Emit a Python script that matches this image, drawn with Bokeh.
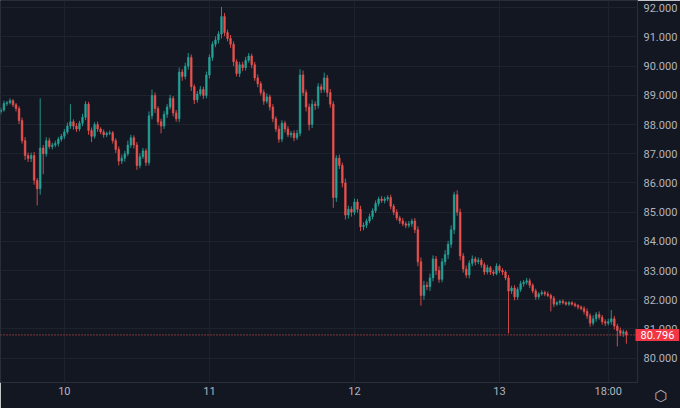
import re
from bokeh.plotting import figure
from bokeh.models import FixedTicker, Span, Label, ColumnDataSource
from bokeh.embed import file_html
from bokeh.resources import INLINE

# ---- data (30-minute candles, hours counted from day 9 00:00) ----
start_hour = 13.5
step_hours = 0.5
first_open = 88.45
closes = [
    88.50, 88.72, 88.75, 88.82, 88.68, 88.55, 88.14, 87.45, 86.94, 86.84,
    86.94, 86.09, 85.80, 87.20, 87.00, 87.45, 87.25, 87.30, 87.35, 87.50,
    87.60, 87.75, 87.95, 88.10, 87.95, 87.85, 88.05, 88.25, 88.70, 87.80,
    87.60, 88.00, 87.85, 87.75, 87.65, 87.70, 87.72, 87.45, 87.15, 86.75,
    86.85, 87.00, 87.30, 87.55, 87.30, 86.60, 86.90, 87.10, 86.70, 88.30,
    89.00, 88.55, 88.10, 87.95, 88.35, 88.60, 88.90, 88.40, 88.20, 89.80,
    89.65, 90.00, 90.30, 89.30, 88.85, 89.05, 89.20, 89.00, 89.70, 90.30,
    90.75, 90.90, 91.10, 91.70, 91.15, 90.95, 90.75, 90.15, 89.75, 90.05,
    89.95, 90.20, 90.35, 90.05, 89.60, 89.40, 89.10, 88.80, 88.95, 88.60,
    88.20, 87.85, 87.50, 88.05, 87.85, 87.65, 87.70, 87.55, 87.70, 89.70,
    89.10, 88.60, 88.00, 88.70, 88.65, 89.30, 89.20, 89.60, 89.10, 88.70,
    85.50, 86.85, 86.60, 86.00, 84.90, 85.10, 85.00, 85.35, 85.10, 84.50,
    84.55, 84.70, 84.85, 85.05, 85.30, 85.45, 85.40, 85.45, 85.50, 85.20,
    85.00, 84.80, 84.70, 84.60, 84.55, 84.60, 84.70, 84.40, 83.30, 82.15,
    82.50, 82.45, 82.75, 83.40, 83.00, 82.70, 83.30, 83.55, 83.90, 84.40,
    85.60, 85.00, 83.50, 83.05, 82.85, 83.25, 83.40, 83.30, 83.35, 83.20,
    82.95, 83.10, 82.95, 82.90, 83.15, 83.00, 82.95, 82.75, 82.30, 82.40,
    82.10, 82.35, 82.55, 82.60, 82.65, 82.50, 82.30, 82.10, 82.20, 82.25,
    82.20, 82.15, 82.05, 81.85, 81.90, 81.95, 81.90, 81.85, 81.90, 81.85,
    81.80, 81.75, 81.70, 81.60, 81.45, 81.20, 81.35, 81.50, 81.40, 81.25,
    81.20, 81.25, 81.35, 81.10, 80.95, 80.85, 80.90, 80.796,
]
# upper / lower wick lengths beyond the body, in cents
wick_up = [
    8, 10, 6, 8, 5, 6, 8, 10, 12, 10,
    10, 12, 8, 170, 10, 12, 10, 8, 10, 8,
    8, 10, 12, 60, 8, 10, 8, 12, 10, 8,
    10, 8, 10, 6, 8, 6, 8, 6, 8, 10,
    12, 10, 15, 10, 8, 10, 12, 10, 8, 15,
    20, 10, 8, 10, 12, 10, 12, 8, 10, 15,
    10, 12, 15, 10, 8, 10, 12, 10, 12, 10,
    10, 12, 10, 33, 12, 10, 12, 10, 8, 10,
    10, 12, 10, 8, 10, 12, 8, 10, 12, 8,
    10, 8, 12, 10, 8, 10, 8, 10, 12, 20,
    15, 10, 12, 15, 10, 12, 10, 18, 10, 12,
    10, 10, 12, 10, 15, 12, 10, 12, 10, 12,
    10, 8, 10, 8, 10, 8, 10, 8, 8, 10,
    8, 10, 8, 10, 8, 10, 8, 10, 12, 15,
    15, 12, 15, 12, 10, 15, 12, 15, 12, 15,
    10, 15, 12, 10, 12, 10, 12, 8, 10, 8,
    8, 10, 6, 8, 10, 6, 8, 6, 10, 8,
    10, 8, 10, 8, 10, 8, 6, 8, 6, 8,
    6, 8, 6, 8, 6, 5, 6, 5, 6, 5,
    6, 5, 6, 8, 10, 8, 12, 8, 10, 8,
    8, 10, 30, 10, 8, 10, 8, 6,
]
wick_dn = [
    10, 6, 8, 6, 8, 10, 12, 10, 15, 12,
    12, 15, 57, 20, 70, 10, 8, 10, 8, 10,
    8, 10, 8, 10, 12, 10, 8, 10, 10, 15,
    20, 8, 10, 8, 10, 8, 6, 10, 12, 15,
    10, 12, 8, 10, 12, 15, 10, 8, 12, 10,
    12, 15, 12, 25, 10, 12, 8, 12, 10, 12,
    15, 10, 12, 15, 15, 10, 8, 12, 10, 12,
    12, 10, 12, 15, 12, 10, 12, 15, 10, 12,
    12, 10, 8, 12, 10, 12, 10, 12, 8, 12,
    12, 10, 12, 10, 12, 8, 10, 12, 8, 10,
    12, 15, 20, 12, 15, 10, 12, 10, 15, 12,
    35, 15, 12, 15, 15, 12, 15, 10, 12, 15,
    12, 10, 8, 10, 8, 10, 8, 10, 8, 10,
    10, 8, 10, 8, 10, 8, 10, 12, 15, 35,
    15, 12, 15, 12, 15, 12, 10, 12, 15, 12,
    15, 12, 15, 12, 10, 12, 10, 12, 8, 10,
    10, 8, 10, 8, 6, 8, 10, 8, 145, 10,
    12, 10, 8, 10, 8, 10, 8, 10, 8, 6,
    8, 6, 45, 10, 6, 8, 6, 5, 6, 5,
    6, 8, 6, 10, 10, 12, 8, 10, 8, 10,
    10, 8, 10, 12, 55, 10, 12, 30,
]

x_ticks = [24, 48, 72, 96, 114]
x_tick_labels = ["10", "11", "12", "13", "18:00"]
y_ticks = [80, 81, 82, 83, 84, 85, 86, 87, 88, 89, 90, 91, 92]
y_tick_labels = ["80.000", "81.000", "82.000", "83.000", "84.000", "85.000", "86.000",
                 "87.000", "88.000", "89.000", "90.000", "91.000", "92.000"]

# ---- build candles ----
n = len(closes)
times = [start_hour + step_hours * i for i in range(n)]
opens = [first_open] + closes[:-1]
tops = [max(a, b) for a, b in zip(opens, closes)]
bots = [min(a, b) for a, b in zip(opens, closes)]
highs = [tops[i] + wick_up[i] / 100 for i in range(n)]
lows = [bots[i] - wick_dn[i] / 100 for i in range(n)]
UP, DOWN = "#26a69a", "#ef5350"
colors = [UP if closes[i] >= opens[i] else DOWN for i in range(n)]
src = ColumnDataSource(dict(t=times, h=highs, l=lows, top=tops, bot=bots, color=colors))

BG = "#131722"
TXT = "#b2b5be"
GRID = "#1e222d"
W, H = 680, 408
RB, BB = 40, 26
x0, x1 = 13.43, 118.84
y0, y1 = 79.167, 92.25
fw, fh = W - RB, H - BB
dxp = (x1 - x0) / fw
dyp = (y1 - y0) / fh

p = figure(width=W, height=H, x_range=(x0, x1), y_range=(y0, y1),
           y_axis_location="right", toolbar_location=None, output_backend="svg",
           min_border_left=0, min_border_top=0, min_border_right=RB, min_border_bottom=BB)
p.background_fill_color = BG
p.border_fill_color = BG
p.outline_line_color = "#2a2e39"

p.segment("t", "h", "t", "l", source=src, color="color", line_width=1, line_alpha=0.85)
p.vbar(x="t", width=0.28, top="top", bottom="bot", source=src,
       fill_color="color", line_color="color", line_width=0.6, alpha=0.9)

for ax in (p.xaxis[0], p.yaxis[0]):
    ax.axis_line_color = None
    ax.major_tick_line_color = None
    ax.minor_tick_line_color = None
    ax.major_tick_out = 0
    ax.major_tick_in = 0
    ax.minor_tick_out = 0
    ax.minor_tick_in = 0
    ax.major_label_text_color = TXT
    ax.major_label_text_font = "Roboto"
    ax.major_label_text_font_size = "11px"
p.xaxis.ticker = FixedTicker(ticks=x_ticks)
p.xaxis.major_label_overrides = {t: s for t, s in zip(x_ticks, x_tick_labels)}
p.yaxis.ticker = FixedTicker(ticks=y_ticks)
p.yaxis.major_label_overrides = {t: s for t, s in zip(y_ticks, y_tick_labels)}
p.xgrid.ticker = FixedTicker(ticks=x_ticks)
p.ygrid.ticker = FixedTicker(ticks=y_ticks)
p.xgrid.grid_line_color = GRID
p.ygrid.grid_line_color = GRID

# last price line and its label on the price scale
last = closes[-1]
p.add_layout(Span(location=last, dimension="width", line_color="#ef5350",
                  line_dash="1 2", line_width=1))
price_lbl = Label(x=x1, y=last, text=f"{last:.3f}", text_align="left",
                  text_baseline="middle", text_color="white", text_font="Roboto",
                  text_font_size="11px", background_fill_color="#f23645", x_offset=-2)
try:
    price_lbl.padding = dict(left=5, right=5, top=2, bottom=2)
except Exception:
    price_lbl.padding = 2
# side-panel labels are not clipped to the frame; the price label sits in the
# bottom panel, and the x axis below it is pulled back up by a negative standoff
p.below.insert(0, price_lbl)
p.xaxis.major_label_standoff = 7 - 17

# settings icon (bottom-right corner), held in the right panel next to the frame;
# the price scale labels are pulled back towards the frame by a negative standoff
icon = Label(x=x1 + 23.5 * dxp, y=y0 - 13 * dyp, text="\u2b21", text_align="center",
             text_baseline="middle", text_color=TXT, text_font="DejaVu Sans",
             text_font_size="15px")
p.right.insert(0, icon)
p.yaxis.major_label_standoff = 5 - 12

html = file_html(p, INLINE)
html = re.sub(r"<body([^>]*)>", r'<body\1 style="background-color:#131722;">', html, count=1)
open("out.html", "w").write(html)
